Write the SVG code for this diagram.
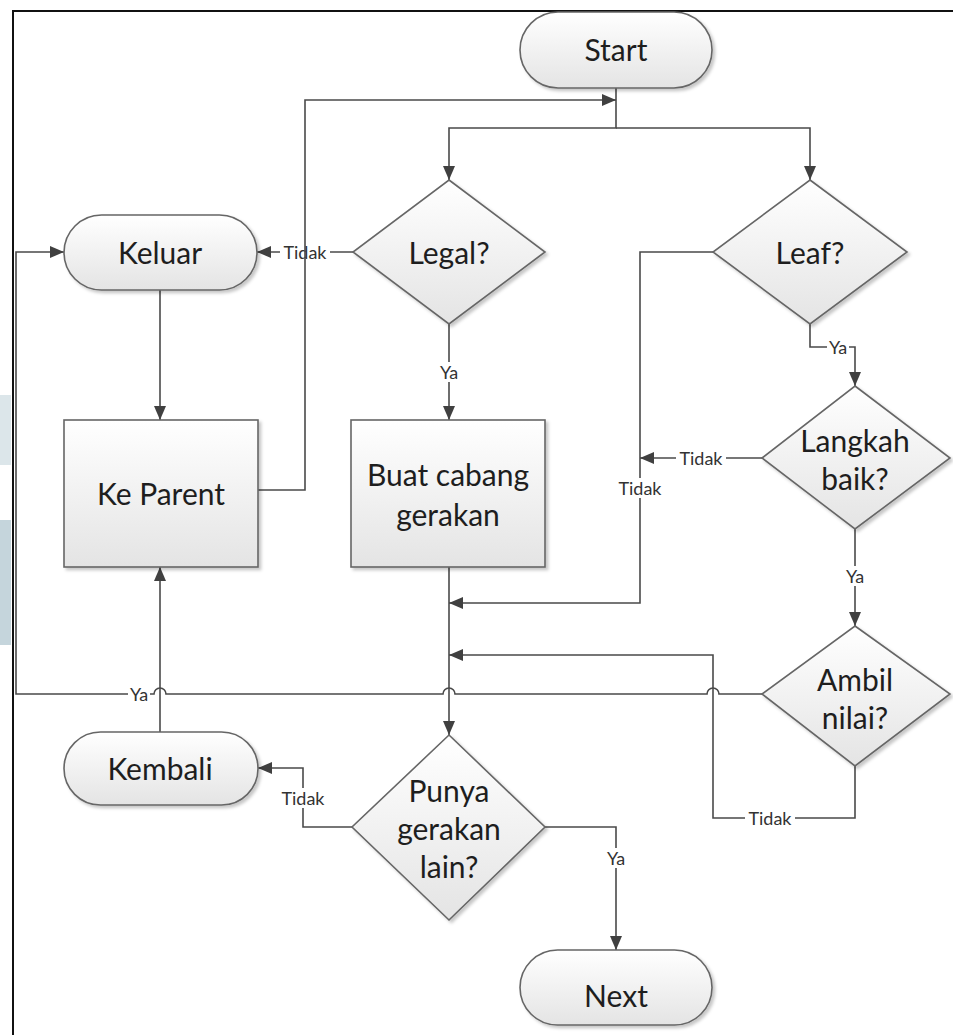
<svg xmlns="http://www.w3.org/2000/svg" width="953" height="1035" viewBox="0 0 953 1035">
  <defs>
    <linearGradient id="nodeFill" x1="0" y1="0" x2="0" y2="1">
      <stop offset="0" stop-color="#ffffff"/>
      <stop offset="1" stop-color="#e4e4e4"/>
    </linearGradient>
    <filter id="shadow" x="-10%" y="-10%" width="125%" height="125%">
      <feDropShadow dx="2.5" dy="2.5" stdDeviation="1.5" flood-color="#000" flood-opacity="0.22"/>
    </filter>
    <marker id="arrow" viewBox="0 0 14 12" refX="14" refY="6" markerWidth="14" markerHeight="12" markerUnits="userSpaceOnUse" orient="auto">
      <path d="M0,0 L14,6 L0,12 z" fill="#404040"/>
    </marker>
    <style>
      .node { fill: url(#nodeFill); stroke: #666; stroke-width: 1.6; filter: url(#shadow); }
      .label { font-family: Lato, "Open Sans", sans-serif; font-size: 30px; fill: #1e1e1e; text-anchor: middle; dominant-baseline: central; }
      .edge { fill: none; stroke: #4a4a4a; stroke-width: 1.6; }
      .arr { marker-end: url(#arrow); }
      .tag { font-family: Lato, "Open Sans", sans-serif; font-size: 18px; fill: #333; text-anchor: middle; dominant-baseline: central; }
      .tagbg { fill: #fff; }
    </style>
  </defs>

  <!-- page background, side tint and frame -->
  <rect x="0" y="0" width="953" height="1035" fill="#fff"/>
  <rect x="0" y="395" width="11" height="70" fill="#dce6ea"/>
  <rect x="0" y="520" width="11" height="125" fill="#c5d5dc"/>
  <path d="M13,1035 V11 H953" fill="none" stroke="#111" stroke-width="2"/>

  <!-- connectors -->
  <g id="connectors">
    <path class="edge arr" d="M616,88 V128 H449 V180"/>
    <path class="edge arr" d="M616,128 H810 V180"/>

    <path class="edge arr" d="M353,252 H257"/>
    <rect class="tagbg" x="280" y="243" width="50" height="18"/>
    <text class="tag" x="305" y="252">Tidak</text>
    <path class="edge arr" d="M258,490 H305 V100 H616"/>

    <path class="edge arr" d="M160,290 V420"/>

    <path class="edge arr" d="M449,324 V420"/>
    <rect class="tagbg" x="438" y="362" width="22" height="20"/>
    <text class="tag" x="449" y="372">Ya</text>

    <path class="edge arr" d="M449,567 V735"/>

    <path class="edge arr" d="M713,252 H640 V603 H449"/>
    <rect class="tagbg" x="615" y="478" width="50" height="20"/>
    <text class="tag" x="640" y="488">Tidak</text>

    <path class="edge arr" d="M810,324 V347 H855 V386"/>
    <rect class="tagbg" x="827" y="338" width="22" height="18"/>
    <text class="tag" x="838" y="347">Ya</text>

    <path class="edge arr" d="M762,458 H640"/>
    <rect class="tagbg" x="676" y="449" width="50" height="18"/>
    <text class="tag" x="701" y="458">Tidak</text>

    <path class="edge arr" d="M855,529 V626"/>
    <rect class="tagbg" x="844" y="566" width="22" height="20"/>
    <text class="tag" x="855" y="576">Ya</text>

    <path class="edge arr" d="M762,694 H719 a6,6 0 0 0 -12,0 H455 a6,6 0 0 0 -12,0 H166 a6,6 0 0 0 -12,0 H16 V252 H64"/>
    <rect class="tagbg" x="128" y="685" width="22" height="18"/>
    <text class="tag" x="139" y="694">Ya</text>

    <path class="edge arr" d="M855,766 V818 H713 V655 H449"/>
    <rect class="tagbg" x="745" y="809" width="50" height="18"/>
    <text class="tag" x="770" y="818">Tidak</text>

    <path class="edge arr" d="M352,827 H303 V768 H258"/>
    <rect class="tagbg" x="278" y="788" width="50" height="20"/>
    <text class="tag" x="303" y="798">Tidak</text>

    <path class="edge arr" d="M160,732 V567"/>

    <path class="edge arr" d="M545,827 H616 V950"/>
    <rect class="tagbg" x="605" y="848" width="22" height="20"/>
    <text class="tag" x="616" y="858">Ya</text>
  </g>

  <!-- nodes -->
  <g id="start">
    <rect class="node" x="520" y="12" width="192" height="76" rx="38" ry="38"/>
    <text class="label" x="616" y="49">Start</text>
  </g>
  <g id="legal">
    <polygon class="node" points="449,180 545,252 449,324 353,252"/>
    <text class="label" x="449" y="252">Legal?</text>
  </g>
  <g id="leaf">
    <polygon class="node" points="810,180 907,252 810,324 713,252"/>
    <text class="label" x="810" y="252">Leaf?</text>
  </g>
  <g id="keluar">
    <rect class="node" x="64" y="215" width="193" height="75" rx="37.5" ry="37.5"/>
    <text class="label" x="160" y="252">Keluar</text>
  </g>
  <g id="ke-parent">
    <rect class="node" x="64" y="420" width="194" height="147"/>
    <text class="label" x="161" y="493">Ke Parent</text>
  </g>
  <g id="buat-cabang">
    <rect class="node" x="351" y="420" width="194" height="147"/>
    <text class="label" x="448" y="474">Buat cabang<tspan x="448" dy="40">gerakan</tspan></text>
  </g>
  <g id="langkah-baik">
    <polygon class="node" points="855,386 950,458 855,529 762,458"/>
    <text class="label" x="855" y="440">Langkah<tspan x="855" dy="38">baik?</tspan></text>
  </g>
  <g id="ambil-nilai">
    <polygon class="node" points="855,626 950,694 855,766 762,694"/>
    <text class="label" x="855" y="679">Ambil<tspan x="855" dy="38">nilai?</tspan></text>
  </g>
  <g id="kembali">
    <rect class="node" x="64" y="732" width="194" height="73" rx="36.5" ry="36.5"/>
    <text class="label" x="160" y="768">Kembali</text>
  </g>
  <g id="punya-gerakan">
    <polygon class="node" points="449,735 545,827 449,920 352,827"/>
    <text class="label" x="449" y="790">Punya<tspan x="449" dy="38">gerakan</tspan><tspan x="449" dy="38">lain?</tspan></text>
  </g>
  <g id="next">
    <rect class="node" x="520" y="950" width="192" height="75" rx="37.5" ry="37.5"/>
    <text class="label" x="616" y="995">Next</text>
  </g>
</svg>
